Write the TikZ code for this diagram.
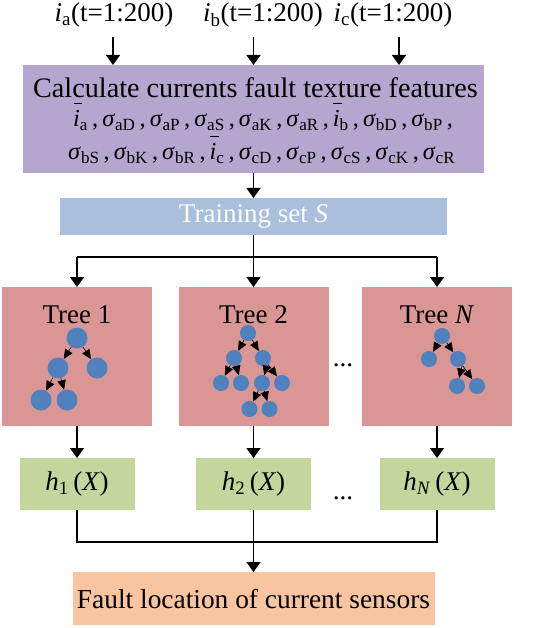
\documentclass[tikz,border=0pt]{standalone}
\usepackage{fontspec}
\setmainfont{Liberation Serif}
\usetikzlibrary{arrows.meta,calc}
\definecolor{cpurple}{HTML}{B5A6CF}
\definecolor{cblue}{HTML}{A9BFDB}
\definecolor{cred}{HTML}{D99694}
\definecolor{cnode}{HTML}{4F81BD}
\definecolor{cgreen}{HTML}{C3D69B}
\definecolor{corange}{HTML}{F9C4A0}
\newcommand\sg[1]{\textit{σ}\textsubscript{#1}}
\newcommand\ib[1]{\makebox[0pt][l]{\hspace{0.5pt}\rule[23pt]{8.5pt}{1.1pt}}\textit{i}\textsubscript{#1}}
\newcommand\cm{\,,\,}
\begin{document}
\begin{tikzpicture}[x=1pt,y=-1pt,
  box/.style={draw=none, inner sep=0pt, outer sep=0pt, anchor=center},
  big/.style={font=\fontsize{27}{33}\selectfont, inner sep=0pt},
  mid/.style={font=\fontsize{24.4}{30}\selectfont, inner sep=0pt},
  arr/.style={line width=1.5pt, -{Triangle[width=14pt,length=10pt]}},
  ln/.style={line width=1.5pt},
  tn/.style={circle, fill=cnode, inner sep=0pt, minimum size=16pt},
  tnb/.style={tn, minimum size=21pt},
  te/.style={line width=0.6pt, -{Triangle[width=8.5pt,length=9.5pt]}}]
\useasboundingbox (0,0) rectangle (533,628);
% top labels
\node[big] (la) at (114,15) {\textit{i}\textsubscript{a}(t=1:200)};
\node[big] (lb) at (263,15) {\textit{i}\textsubscript{b}(t=1:200)};
\node[big] (lc) at (393,15) {\textit{i}\textsubscript{c}(t=1:200)};
% feature box
\node[box, fill=cpurple, minimum width=461pt, minimum height=108pt] (calc) at (253.5,119) {};
\node[inner sep=0pt, font=\fontsize{28.2}{33}\selectfont] (title) at (255.5,88) {Calculate currents fault texture features};
\node[mid, anchor=base west] (f1) at (73,127) {\ib{a}\cm\sg{aD}\cm\sg{aP}\cm\sg{aS}\cm\sg{aK}\cm\sg{aR}\cm\ib{b}\cm\sg{bD}\cm\sg{bP}\,,};
\node[mid, anchor=base west] (f2) at (68,160) {\sg{bS}\cm\sg{bK}\cm\sg{bR}\cm\ib{c}\cm\sg{cD}\cm\sg{cP}\cm\sg{cS}\cm\sg{cK}\cm\sg{cR}};
\coordinate (a1) at (113,37);
\coordinate (a2) at (253.5,37);
\coordinate (a3) at (399,37);
\draw[arr] (a1) -- (a1 |- calc.north);
\draw[arr] (a2) -- (a2 |- calc.north);
\draw[arr] (a3) -- (a3 |- calc.north);
% training set
\node[box, fill=cblue, minimum width=387pt, minimum height=37pt, big, text=white] (train) at (253.5,216.5) {Training set \textit{S}};
\draw[arr] (calc.south) -- (train.north);
% trees
\node[box, fill=cred, minimum width=150pt, minimum height=139pt] (t1) at (77,356.5) {};
\node[box, fill=cred, minimum width=150pt, minimum height=139pt] (t2) at (253.5,356.5) {};
\node[box, fill=cred, minimum width=150pt, minimum height=139pt] (tN) at (437,356.5) {};
\node[big] (tt1) at (77,315) {Tree 1};
\node[big] (tt2) at (253.5,315) {Tree 2};
\node[big] (ttN) at (437,315) {Tree \textit{N}};
\coordinate (b) at (253.5,257);
\draw[ln] (train.south) -- (b);
\draw[ln] (b -| t1.north) -- (b -| tN.north);
\draw[arr] (b -| t1.north) -- (t1.north);
\draw[arr] (b) -- (t2.north);
\draw[arr] (b -| tN.north) -- (tN.north);
\node[big, anchor=base] (d1) at (343,366) {...};
% tree 1
\node[tnb] (r1) at (77,338) {};
\node[tnb] (r1l) at (58,368) {};
\node[tnb] (r1r) at (97,368) {};
\node[tnb] (r1ll) at (41,400) {};
\node[tnb] (r1lr) at (67,400) {};
\draw[te] (r1) -- (r1l);
\draw[te] (r1) -- (r1r);
\draw[te] (r1l) -- (r1ll);
\draw[te] (r1l) -- (r1lr);
% tree 2
\node[tn] (r2) at (248,333) {};
\node[tn] (r2l) at (234,358) {};
\node[tn] (r2r) at (263,358) {};
\node[tn] (r2ll) at (221,383) {};
\node[tn] (r2lr) at (241,383) {};
\node[tn] (r2rl) at (262,383) {};
\node[tn] (r2rr) at (282,383) {};
\node[tn] (r2rll) at (249.5,409) {};
\node[tn] (r2rlr) at (269.5,409) {};
\draw[te] (r2) -- (r2l);
\draw[te] (r2) -- (r2r);
\draw[te] (r2l) -- (r2ll);
\draw[te] (r2l) -- (r2lr);
\draw[te] (r2r.-60) -- (r2rl);
\draw[te] (r2r) -- (r2rr);
\draw[te] (r2rl) -- (r2rll);
\draw[te] (r2rl) -- (r2rlr);
% tree N
\node[tn] (rN) at (442,336) {};
\node[tn] (rNl) at (429,359) {};
\node[tn] (rNr) at (458,359) {};
\node[tn] (rNrl) at (457,386) {};
\node[tn] (rNrr) at (477,386) {};
\draw[te] (rN) -- (rNl);
\draw[te] (rN) -- (rNr);
\draw[te] (rNr.-60) -- (rNrl);
\draw[te] (rNr) -- (rNrr);
% h boxes
\node[box, fill=cgreen, minimum width=115pt, minimum height=52pt, big] (h1) at (77,484) {\textit{h}\textsubscript{1}\,(\textit{X})};
\node[box, fill=cgreen, minimum width=115pt, minimum height=52pt, big] (h2) at (253.5,484) {\textit{h}\textsubscript{2}\,(\textit{X})};
\node[box, fill=cgreen, minimum width=115pt, minimum height=52pt, big] (hN) at (437,484) {\textit{h}\textsubscript{\textit{N}}\,(\textit{X})};
\draw[arr] (t1.south) -- (h1.north);
\draw[arr] (t2.south) -- (h2.north);
\draw[arr] (tN.south) -- (hN.north);
\node[big, anchor=base] (d2) at (343,499) {...};
% fault
\node[box, fill=corange, minimum width=362pt, minimum height=53pt, font=\fontsize{27.4}{33}\selectfont] (fault) at (253.5,598.5) {Fault location of current sensors};
\coordinate (m) at (253.5,542);
\draw[ln] (h1.south) -- (h1.south |- m) -- (hN.south |- m) -- (hN.south);
\draw[arr] (h2.south) -- (fault.north);
\end{tikzpicture}
\end{document}
